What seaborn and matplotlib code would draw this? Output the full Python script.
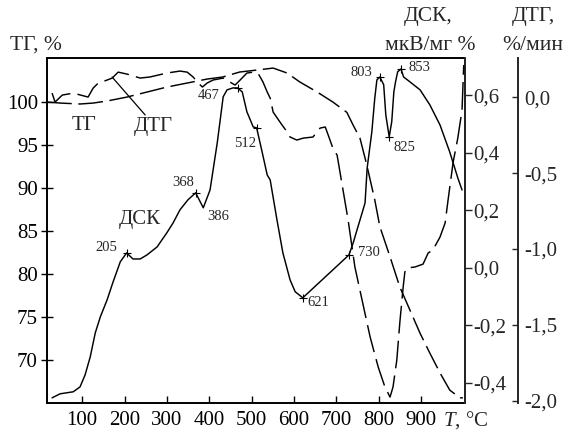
import numpy as np
import matplotlib
matplotlib.use('Agg')
import matplotlib.pyplot as plt
import seaborn as sns
from matplotlib.ticker import FixedLocator, FixedFormatter

# ---------------- data ----------------
T_tg = [17, 48, 95, 126, 159, 206, 253, 300, 348, 395, 432, 472, 513, 551, 584,
        614, 655, 692, 725, 740, 756, 772, 791, 803, 827, 850, 874, 898, 921, 945,
        968, 992, 999]
tg = [100.0, 99.88, 99.77, 99.88, 100.12, 100.58, 101.16, 101.74, 102.21, 102.67,
      102.91, 103.49, 103.72, 103.95, 103.37, 102.33, 101.16, 100.0, 98.8, 97.3,
      95.8, 92.7, 88.6, 85.5, 82.0, 78.5, 75.8, 73.1, 70.8, 68.5, 66.5, 65.6, 65.6]

T_dsc = [29, 48, 79, 95, 107, 119, 131, 143, 159, 173, 190, 205, 220, 237, 253, 277,
         300, 315, 331, 350, 368, 386, 402, 419, 433, 442, 456, 467, 478, 489, 504,
         512, 525, 537, 544, 560, 574, 591, 603, 621, 730, 740, 749, 761, 768, 773,
         784, 791, 796, 803, 812, 817, 825, 831, 836, 840, 845, 853, 859, 874, 898,
         921, 945, 968, 987, 997]
dsc = [-0.452, -0.438, -0.431, -0.414, -0.372, -0.310, -0.226, -0.170, -0.111, -0.049,
       0.021, 0.052, 0.031, 0.031, 0.045, 0.073, 0.122, 0.157, 0.202, 0.237, 0.261,
       0.209, 0.271, 0.435, 0.595, 0.619, 0.626, 0.626, 0.612, 0.543, 0.490, 0.487,
       0.403, 0.323, 0.306, 0.167, 0.052, -0.042, -0.083, -0.104, 0.045, 0.087, 0.132,
       0.191, 0.226, 0.348, 0.473, 0.591, 0.654, 0.664, 0.637, 0.532, 0.456, 0.508,
       0.612, 0.647, 0.682, 0.692, 0.664, 0.647, 0.619, 0.567, 0.497, 0.403, 0.313,
       0.271]

T_dtg = [29, 36, 53, 79, 114, 126, 138, 159, 171, 185, 206, 237, 260, 300, 331, 348,
         362, 374, 384, 395, 409, 433, 449, 461, 473, 489, 504, 515, 527, 537, 544,
         551, 567, 584, 591, 607, 622, 645, 662, 674, 681, 692, 702, 716, 728, 744,
         761, 780, 799, 815, 827, 834, 843, 850, 858, 862, 867, 886, 905, 917, 928,
         945, 957, 964, 976, 987, 997, 1001]
dtg = [0.026, -0.033, 0.013, 0.026, 0.0, 0.059, 0.092, 0.112, 0.125, 0.164, 0.151,
       0.125, 0.132, 0.158, 0.171, 0.164, 0.132, 0.092, 0.066, 0.092, 0.112, 0.125,
       0.099, 0.079, 0.112, 0.158, 0.164, 0.158, 0.099, 0.033, -0.007, -0.099, -0.164,
       -0.230, -0.263, -0.283, -0.270, -0.263, -0.204, -0.197, -0.250, -0.336, -0.382,
       -0.612, -0.809, -1.118, -1.336, -1.579, -1.776, -1.908, -1.974, -1.908, -1.730,
       -1.487, -1.250, -1.151, -1.125, -1.118, -1.099, -1.026, -1.007, -0.921, -0.829,
       -0.678, -0.428, -0.270, -0.086, 0.211]

marked_T = [205, 368, 467, 512, 621, 730, 803, 825, 853]
label_T = [205, 368, 386, 467, 512, 621, 730, 803, 825, 853]

x_ticks = [100, 200, 300, 400, 500, 600, 700, 800, 900]
x_ticklabels = ['100', '200', '300', '400', '500', '600', '700', '800', '900']
tg_ticks = [70, 75, 80, 85, 90, 95, 100]
tg_ticklabels = ['70', '75', '80', '85', '90', '95', '100']
dsc_ticks = [-0.4, -0.2, 0.0, 0.2, 0.4, 0.6]
dsc_ticklabels = ['-0,4', '-0,2', '0,0', '0,2', '0,4', '0,6']
dtg_ticks = [-2.0, -1.5, -1.0, -0.5, 0.0]
dtg_ticklabels = ['-2,0', '-1,5', '-1,0', '-0,5', '0,0']

# ---------------- layout / style ----------------
label_offsets = {205: (-20, 5), 368: (-12, 10), 386: (15, -9), 467: (-29, -8),
                 512: (-12, -16), 621: (16, -5), 730: (20, 2), 803: (-18, 4),
                 825: (15, -11), 853: (18, 1)}

sns.set_style('ticks')
plt.rcParams['font.family'] = ['Liberation Serif', 'DejaVu Serif']
plt.rcParams['mathtext.fontset'] = 'custom'
plt.rcParams['mathtext.it'] = 'Liberation Serif:italic'
plt.rcParams['mathtext.rm'] = 'Liberation Serif'

W, H = 563, 434
fig = plt.figure(figsize=(W / 100, H / 100), dpi=100)
ax = fig.add_axes([47 / W, 1 - 403 / H, 418 / W, 345 / H])
ax_dsc = ax.twinx()
ax_dtg = ax.twinx()

lw = 1.05
sns.lineplot(x=T_tg, y=tg, ax=ax, color='black', linewidth=lw,
             linestyle=(0, (17, 4.5)), estimator=None, sort=False)
sns.lineplot(x=T_dsc, y=dsc, ax=ax_dsc, color='black', linewidth=lw,
             estimator=None, sort=False)
sns.lineplot(x=T_dtg, y=dtg, ax=ax_dtg, color='black', linewidth=lw,
             linestyle=(0, (19, 5)), estimator=None, sort=False)

mark_vals = np.interp(marked_T, T_dsc, dsc)
sns.scatterplot(x=marked_T, y=mark_vals, ax=ax_dsc, marker='+', color='black',
                s=35, linewidth=0.8)

for t in label_T:
    v = float(np.interp(t, T_dsc, dsc))
    ax_dsc.annotate(str(t), xy=(t, v), xytext=label_offsets[t],
                    textcoords='offset pixels', ha='center', va='center',
                    fontsize=10.5)

ax.set_xlim(17, 1004)
ax.set_ylim(65.0, 105.12)
ax_dsc.set_ylim(-0.470, 0.730)
ax_dtg.set_ylim(-2.013, 0.257)

fs = 15
fst = 15.5
ax.xaxis.set_major_locator(FixedLocator(x_ticks))
ax.xaxis.set_major_formatter(FixedFormatter(x_ticklabels))
ax.yaxis.set_major_locator(FixedLocator(tg_ticks))
ax.yaxis.set_major_formatter(FixedFormatter(tg_ticklabels))
ax.tick_params(axis='x', direction='in', length=5, width=1, pad=6, labelsize=fs,
               top=False, colors='black')
ax.tick_params(axis='y', direction='inout', length=9, width=1, pad=2, labelsize=fs,
               right=False, colors='black')

ax_dsc.yaxis.set_major_locator(FixedLocator(dsc_ticks))
ax_dsc.yaxis.set_major_formatter(FixedFormatter(dsc_ticklabels))
ax_dsc.tick_params(axis='y', direction='out', length=5, width=1, pad=1, labelsize=fs)

ax_dtg.yaxis.set_major_locator(FixedLocator(dtg_ticks))
ax_dtg.yaxis.set_major_formatter(FixedFormatter(dtg_ticklabels))
ax_dtg.tick_params(axis='y', direction='in', length=4, width=1, pad=5, labelsize=fs)
ax_dtg.spines['right'].set_position(('outward', 38))

for a in (ax, ax_dsc, ax_dtg):
    a.set_xlabel('')
    a.set_ylabel('')
for s in ax.spines.values():
    s.set_linewidth(1.4)
    s.set_color('black')
for name in ('left', 'top', 'bottom'):
    ax_dsc.spines[name].set_visible(False)
    ax_dtg.spines[name].set_visible(False)
ax_dsc.spines['right'].set_linewidth(1.4)
ax_dtg.spines['right'].set_linewidth(1.4)

# curve labels
ax.text(104.7, 97.3, 'ТГ', ha='center', va='center', fontsize=fs)
ax.text(267.6, 97.2, 'ДТГ', ha='center', va='center', fontsize=fs)
ax.text(236.9, 86.3, 'ДСК', ha='center', va='center', fontsize=fs)
ax.annotate('', xy=(170.8, 102.9), xytext=(248.7, 98.5),
            arrowprops=dict(arrowstyle='-', lw=0.9, color='black',
                            shrinkA=0, shrinkB=0))

# axis titles
fig.text(10 / W, 1 - 45 / H, 'ТГ, %', ha='left', va='center', fontsize=fst)
fig.text(428 / W, 1 - 17 / H, 'ДСК,', ha='center', va='center', fontsize=fst)
fig.text(430 / W, 1 - 46 / H, 'мкВ/мг %', ha='center', va='center', fontsize=fst)
fig.text(533 / W, 1 - 17 / H, 'ДТГ,', ha='center', va='center', fontsize=fst)
fig.text(533 / W, 1 - 46 / H, '%/мин', ha='center', va='center', fontsize=fst)
fig.text(443 / W, 1 - 420 / H, r'$\mathit{T}$, °C', ha='left', va='center', fontsize=fs)

fig.savefig('out.png', dpi=100)
